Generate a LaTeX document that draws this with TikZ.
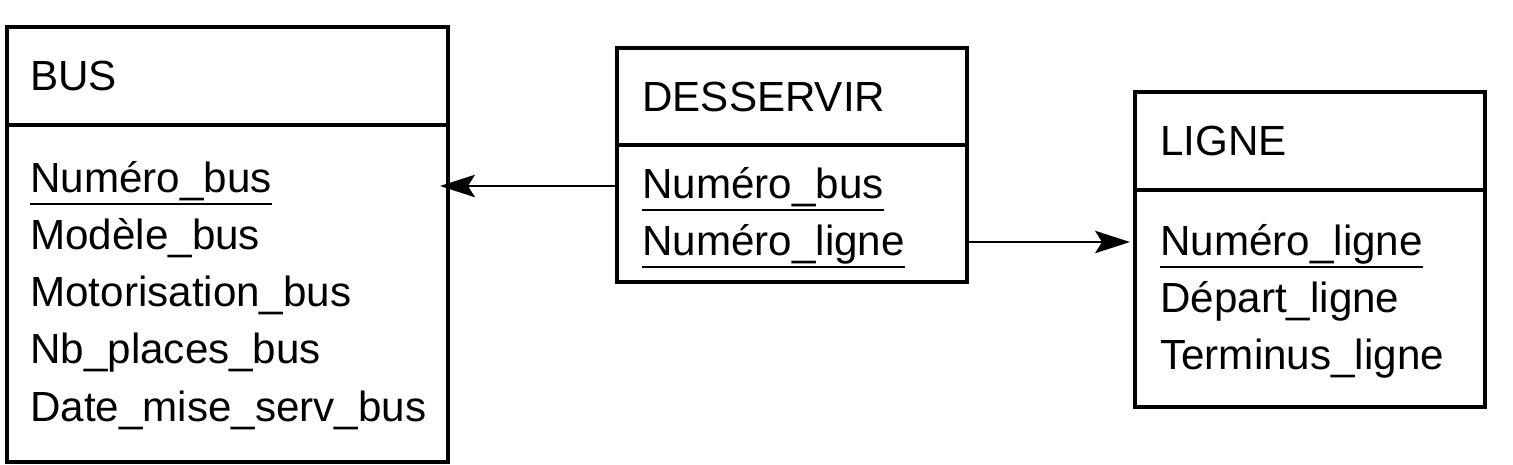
\documentclass[tikz,border=0pt]{standalone}
\usepackage{fontspec}
\setmainfont{Liberation Sans}
\usetikzlibrary{arrows.meta}
\tikzset{
	entity/.style={draw, line width=2.2pt, anchor=north west, inner sep=0pt},
	attr/.style={anchor=base west, inner sep=0pt, font=\fontsize{24}{28}\selectfont},
	link/.style={line width=1pt, -{Stealth[length=0.7cm, width=0.45cm, inset=0.14cm]}}
}
\newcommand{\cle}[1]{\setbox0\hbox{#1}\leavevmode\rlap{\vrule height -6.4pt depth 7.6pt width \wd0}\box0}

\begin{document}
\begin{tikzpicture}[x=0.02cm, y=-0.02cm]
			\useasboundingbox (0,0) rectangle (1513,464);

			\node[entity, minimum width=8.82cm, minimum height=8.7cm] (bus) at (5,25) {};
			\draw[line width=2pt] (5,125) -- (446,125);
			\node[attr] (busT) at (30,90) {BUS};
			\node[attr] (bus1) at (30,192) {\cle{Numéro\_bus}};
			\node[attr] (bus2) at (30,249) {Modèle\_bus};
			\node[attr] (bus3) at (30,306) {Motorisation\_bus};
			\node[attr] (bus4) at (30,363) {Nb\_places\_bus};
			\node[attr] (bus5) at (30,421) {Date\_mise\_serv\_bus};

			\node[entity, minimum width=7cm, minimum height=4.68cm] (des) at (615,46) {};
			\draw[line width=2pt] (615,145) -- (965,145);
			\node[attr] (desT) at (642,111) {DESSERVIR};
			\node[attr] (des1) at (642,198) {\cle{Numéro\_bus}};
			\node[attr] (des2) at (642,255) {\cle{Numéro\_ligne}};

			\node[entity, minimum width=7cm, minimum height=6.3cm] (lig) at (1133,90) {};
			\draw[line width=2pt] (1133,190) -- (1483,190);
			\node[attr] (ligT) at (1160,155) {LIGNE};
			\node[attr] (lig1) at (1160,255) {\cle{Numéro\_ligne}};
			\node[attr] (lig2) at (1160,312) {Départ\_ligne};
			\node[attr] (lig3) at (1160,369) {Terminus\_ligne};

			\coordinate (desA) at (615,186);
			\coordinate (busA) at (440,186);
			\coordinate (desB) at (965,242);
			\coordinate (ligB) at (1130,242);
			\draw[link] (desA) -- (busA);
			\draw[link] (desB) -- (ligB);
		\end{tikzpicture}
\end{document}
